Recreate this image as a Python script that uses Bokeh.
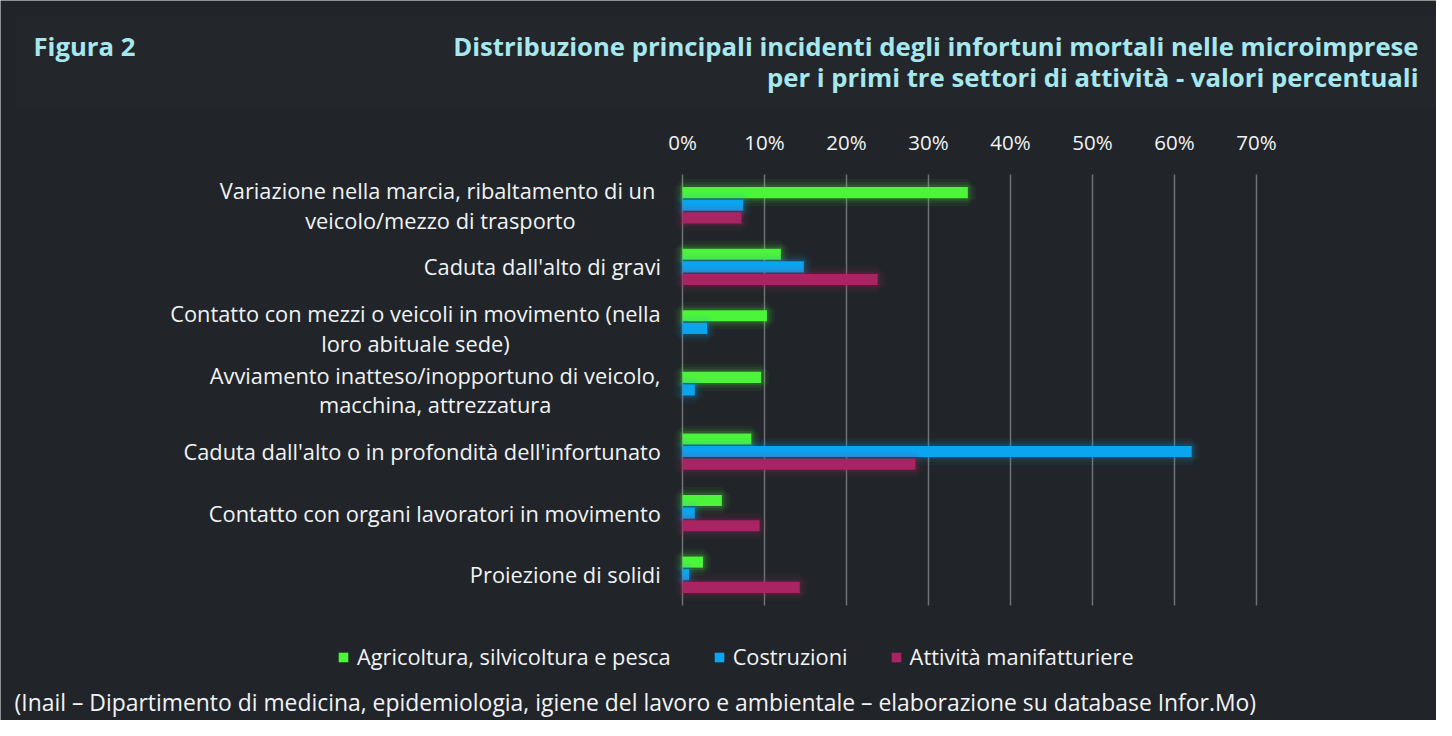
import glob
from bokeh.plotting import figure
from bokeh.models import (Range1d, Label, ColumnDataSource, Legend, LegendItem, BoxAnnotation)
from bokeh.core.properties import value
from bokeh.embed import file_html
from bokeh.resources import INLINE

# ---------------- data ----------------
categories = [
    "Variazione nella marcia, ribaltamento di un \nveicolo/mezzo di trasporto",
    "Caduta dall'alto di gravi",
    "Contatto con mezzi o veicoli in movimento (nella\nloro abituale sede)",
    "Avviamento inatteso/inopportuno di veicolo,\nmacchina, attrezzatura",
    "Caduta dall'alto o in profondità dell'infortunato",
    "Contatto con organi lavoratori in movimento",
    "Proiezione di solidi",
]
agricoltura = [34.8, 12.0, 10.3, 9.6, 8.4, 4.8, 2.5]
costruzioni = [7.4, 14.8, 3.0, 1.5, 62.1, 1.5, 0.8]
manifatturiere = [7.2, 23.8, 0.0, 0.0, 28.4, 9.4, 14.3]
series_names = ["Agricoltura, silvicoltura e pesca", "Costruzioni", "Attività manifatturiere"]
x_ticks = [0, 10, 20, 30, 40, 50, 60, 70]
tick_labels = ["0%", "10%", "20%", "30%", "40%", "50%", "60%", "70%"]

title_left = "Figura 2"
title_right_1 = "Distribuzione principali incidenti degli infortuni mortali nelle microimprese"
title_right_2 = "per i primi tre settori di attività - valori percentuali"
footer = ("(Inail – Dipartimento di medicina, epidemiologia, igiene del lavoro e ambientale – "
          "elaborazione su database Infor.Mo)")

# ---------------- style / layout ----------------
BG = "#212529"
BAND = "#23272b"
TITLE_C = "#a6e8ee"
TEXT_C = "#f1f3f5"
GRID_C = "#6e7276"
COLORS = ["#4cf53a", "#0aa5f0", "#a82462"]
FONT = "Open Sans"
LBL_SIZE = 21.8

W, H = 1436, 720
X0, PX = 682.0, 8.2            # pixel of 0 %, pixels per 1 %
TOP, BOTTOM = 174.0, 605.0      # plot area top / bottom pixels
n = len(categories)
PY = (BOTTOM - TOP) / n


def dx(px):
    return (px - X0) / PX


def dy(py):
    return (n - 0.5) - (py - TOP) / PY


def make_measure(size):
    try:
        from PIL import ImageFont
        paths = [p for p in glob.glob("/usr/share/fonts/**/*.ttf", recursive=True)
                 if "opensans" in p.lower().replace(" ", "").replace("-", "") and "italic" not in p.lower()]
        paths.sort(key=lambda p: (0 if "regular" in p.lower() else 1, len(p)))
        font = ImageFont.truetype(paths[0], size)
        return lambda s: font.getlength(s)
    except Exception:
        return lambda s: 0.46 * size * len(s)


measure = make_measure(LBL_SIZE)

p = figure(width=W, height=H, x_range=Range1d(dx(0), dx(W)), y_range=Range1d(dy(H), dy(0)),
           x_axis_location=None, y_axis_location=None,
           output_backend="svg", toolbar_location=None, min_border=0)
p.background_fill_color = BG
p.border_fill_color = BG
p.outline_line_color = None
p.grid.visible = False

# title band
p.add_layout(BoxAnnotation(left=dx(15), right=dx(1436), top=dy(15), bottom=dy(108),
                           fill_color=BAND, fill_alpha=1.0, line_color=None, level="underlay"))

# grid lines at the ticks
p.segment(x0=x_ticks, x1=x_ticks, y0=[-0.5] * len(x_ticks), y1=[n - 0.5] * len(x_ticks),
          line_color=GRID_C, line_width=1.5)

# tick labels
p.text(x=x_ticks, y=[dy(141)] * len(x_ticks), text=tick_labels, text_align="center",
       text_baseline="middle", text_font=value(FONT), text_font_size="20.5px", text_color=TEXT_C)

# bars
offsets = [0.205, 0.0, -0.205]
values = [agricoltura, costruzioni, manifatturiere]
items = []
for name, vals, col, off in zip(series_names, values, COLORS, offsets):
    ys = [n - 1 - i + off for i in range(n)]
    src = ColumnDataSource(dict(y=ys, right=vals))
    glow_src = ColumnDataSource(dict(y=[y for y, v in zip(ys, vals) if v > 0],
                                     right=[v for v in vals if v > 0]))
    for lw, la in [(16, 0.05), (10, 0.08), (5, 0.14)]:
        p.hbar(y="y", right="right", left=0, height=0.18, source=glow_src,
               fill_alpha=0, line_color=col, line_width=lw, line_alpha=la)
    r = p.hbar(y="y", right="right", left=0, height=0.18, source=src,
               fill_color=col, line_color=None)
    items.append(LegendItem(label=name, renderers=[r]))

# category labels (block right-aligned, lines centred)
xoffs = [-(22 + max(measure(line) for line in c.split("\n")) / 2.0) for c in categories]
lab_src = ColumnDataSource(dict(x=[0] * n, y=[n - 1 - i for i in range(n)], text=categories, xoff=xoffs))
p.text(x="x", y="y", text="text", x_offset="xoff", source=lab_src,
       text_align="center", text_baseline="middle", text_line_height=1.02,
       text_font=value(FONT), text_font_size=f"{LBL_SIZE}px", text_color=TEXT_C)

legend = Legend(items=items, orientation="horizontal", location=(337, H - 671),
                background_fill_alpha=0, border_line_color=None,
                label_text_font=FONT, label_text_font_size=f"{LBL_SIZE}px", label_text_color=TEXT_C,
                glyph_width=12, glyph_height=12, spacing=42, label_standoff=8, padding=4, margin=0)
p.add_layout(legend, "center")

for txt, x, y, align in [(title_left, 33, 46, "left"), (title_right_1, 1418, 46, "right"),
                         (title_right_2, 1418, 77, "right")]:
    p.add_layout(Label(x=dx(x), y=dy(y), text=txt,
                       text_align=align, text_baseline="middle", text_font=FONT,
                       text_font_style="bold", text_font_size="25.7px", text_color=TITLE_C))

p.add_layout(Label(x=dx(14), y=dy(702), text=footer,
                   text_align="left", text_baseline="middle", text_font=FONT,
                   text_font_size="22.9px", text_color=TEXT_C))

open("out.html", "w").write(file_html(p, INLINE))
